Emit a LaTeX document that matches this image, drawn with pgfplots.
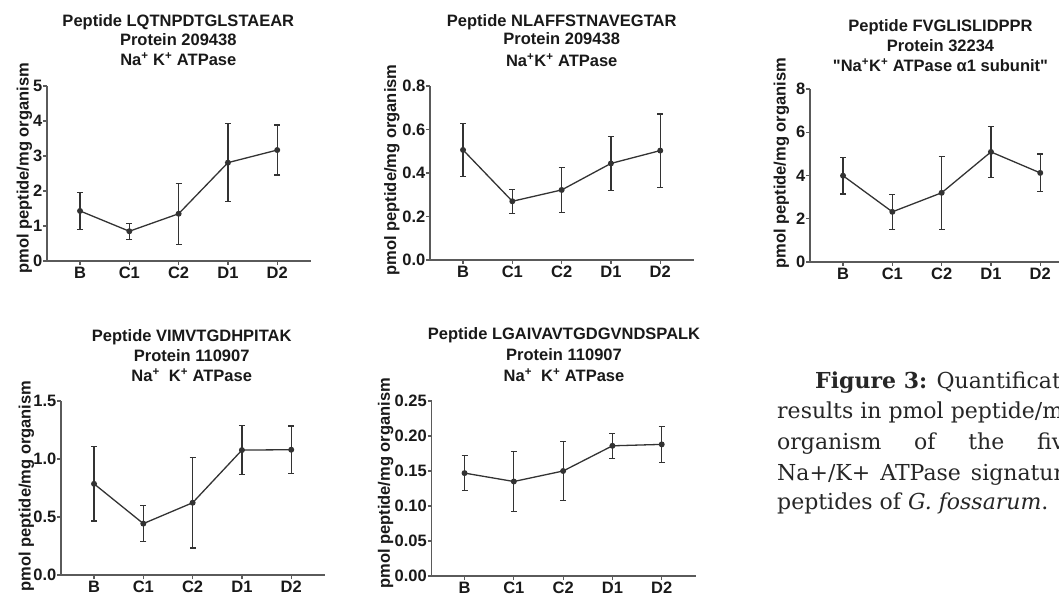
\documentclass[border=0pt]{standalone}
\usepackage{fontspec}
\setmainfont{Liberation Sans}
\newfontfamily\capfont{DejaVu Serif}
\usepackage{pgfplots}
\pgfplotsset{compat=1.18}

\definecolor{axgray}{HTML}{5A5A5A}
\definecolor{linegray}{HTML}{333333}
\newcommand\tf{\fontsize{16.5}{19}\selectfont\bfseries}

\pgfplotsset{
  pep/.style={
    scale only axis, width=264pt, height=174pt, anchor=south west,
    xmin=-0.67, xmax=4.685, ymin=0,
    axis x line*=bottom, axis y line*=left,
    axis line style={axgray, line width=1.4pt},
    xtick={0,1,2,3,4}, xticklabels={B,C1,C2,D1,D2},
    tick align=outside, major tick length=4pt,
    tick style={axgray, line width=1.2pt},
    ticklabel style={font=\tf, text=black!90},
    yticklabel style={inner xsep=0.5pt},
    xticklabel style={inner ysep=2pt},
    scaled y ticks=false,
    /pgf/number format/assume math mode=true,
    clip=false,
  },
  dat/.style={linegray, line width=1.3pt, mark=*, mark size=2.3pt,
    mark options={fill=linegray},
    error bars/.cd, y dir=both, y explicit,
    error bar style={line width=1.2pt, linegray},
    error mark options={rotate=90, line width=1.2pt, mark size=3pt, linegray}},
}

\begin{document}
\begin{tikzpicture}[x=1pt,y=1pt]
\useasboundingbox (0,0) rectangle (1059,597);

% top left
\begin{axis}[pep, at={(47pt,336pt)}, height=175pt, ymax=5, ytick={0,1,2,3,4,5}]
  \addplot[dat] coordinates {(0,1.43) +- (0,0.535) (1,0.85) +- (0,0.23) (2,1.35) +- (0,0.87)
    (3,2.81) +- (0,1.11) (4,3.17) +- (0,0.715)};
\end{axis}
% top middle
\begin{axis}[pep, at={(430pt,337pt)}, ymax=0.8, ytick={0,0.2,0.4,0.6,0.8},
  yticklabel style={/pgf/number format/.cd, fixed, fixed zerofill, precision=1}]
  \addplot[dat] coordinates {(0,0.506) +- (0,0.122) (1,0.27) +- (0,0.055) (2,0.322) +- (0,0.102)
    (3,0.444) +- (0,0.124) (4,0.503) +- (0,0.168)};
\end{axis}
% top right
\begin{axis}[pep, at={(810pt,335pt)}, height=173pt, ymax=8, ytick={0,2,4,6,8}]
  \addplot[dat] coordinates {(0,3.99) +- (0,0.85) (1,2.32) +- (0,0.81) (2,3.2) +- (0,1.69)
    (3,5.09) +- (0,1.18) (4,4.12) +- (0,0.87)};
\end{axis}
% bottom left
\begin{axis}[pep, at={(61pt,22pt)}, ymax=1.5, ytick={0,0.5,1,1.5},
  yticklabel style={/pgf/number format/.cd, fixed, fixed zerofill, precision=1}]
  \addplot[dat] coordinates {(0,0.786) +- (0,0.32) (1,0.443) +- (0,0.155) (2,0.623) +- (0,0.39)
    (3,1.077) +- (0,0.21) (4,1.08) +- (0,0.205)};
\end{axis}
% bottom middle
\begin{axis}[pep, at={(431.5pt,21pt)}, height=175pt, ymax=0.25, ytick={0,0.05,0.1,0.15,0.2,0.25},
  yticklabel style={/pgf/number format/.cd, fixed, fixed zerofill, precision=2}]
  \addplot[dat] coordinates {(0,0.147) +- (0,0.025) (1,0.135) +- (0,0.043) (2,0.15) +- (0,0.042)
    (3,0.186) +- (0,0.018) (4,0.188) +- (0,0.026)};
\end{axis}

% titles
\begin{scope}[every node/.style={font=\tf, text=black!90, inner sep=0pt, anchor=base}]
  \node at (178.3,570.2) {Peptide LQTNPDTGLSTAEAR};
  \node at (178.3,551.9) {Protein 209438};
  \node at (178.3,531.2) {Na\textsuperscript{+} K\textsuperscript{+} ATPase};
  \node at (561.7,570.2) {Peptide NLAFFSTNAVEGTAR};
  \node at (561.7,552) {Protein 209438};
  \node at (561.7,530.2) {Na\textsuperscript{+}K\textsuperscript{+} ATPase};
  \node at (940.5,565.2) {Peptide FVGLISLIDPPR};
  \node at (940.5,545.2) {Protein 32234};
  \node at (940.5,525.2) {\textquotedbl Na\textsuperscript{+}K\textsuperscript{+} ATPase α1 subunit\textquotedbl};
  \node at (191.7,255.2) {Peptide VIMVTGDHPITAK};
  \node at (191.7,235.2) {Protein 110907};
  \node at (191.7,215.2) {Na\textsuperscript{+}\ \ K\textsuperscript{+} ATPase};
  \node at (564,257) {Peptide LGAIVAVTGDGVNDSPALK};
  \node at (564,236) {Protein 110907};
  \node at (564,215.2) {Na\textsuperscript{+}\ \ K\textsuperscript{+} ATPase};
\end{scope}

% y labels
\begin{scope}[every node/.style={font=\tf, text=black!90, inner sep=0pt, rotate=90, anchor=center}]
  \node at (24.5,428.7) {pmol peptide/mg organism};
  \node at (392,427) {pmol peptide/mg organism};
  \node at (781.5,433.7) {pmol peptide/mg organism};
  \node at (26.5,111) {pmol peptide/mg organism};
  \node at (385.7,113.7) {pmol peptide/mg organism};
\end{scope}

% caption, cut by the page edge as in the source figure
\begin{scope}
  \clip (0,0) rectangle (1059,597);
  \begin{scope}[every node/.style={font=\capfont\fontsize{22}{30}\selectfont, text=black!85, inner sep=0pt, anchor=base west}]
    \node at (815,208) {{\bfseries Figure 3:} Quantification};
    \node at (777,178) {results in pmol peptide/mg};
    \node at (777,147.7) {\makebox[300pt][s]{organism of the five}};
    \node at (777,117) {\makebox[300pt][s]{Na+/K+ ATPase signature}};
    \node at (777,87.7) {peptides of \textit{G. fossarum}.};
  \end{scope}
\end{scope}
\end{tikzpicture}
\end{document}
